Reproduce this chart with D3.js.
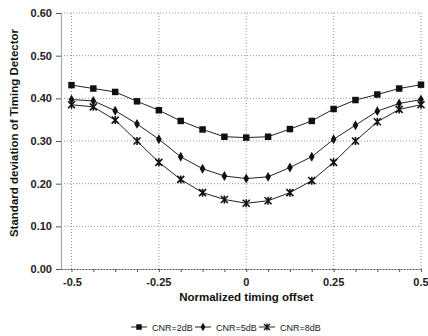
<!DOCTYPE html>
<html>
<head>
<meta charset="utf-8">
<script src="https://cdn.jsdelivr.net/npm/d3@7"></script>
<style>
  body { margin: 0; background: #fff; }
  svg { display: block; font-family: "Liberation Sans", Arial, sans-serif; }
</style>
</head>
<body>
<svg id="chart" width="428" height="336"></svg>
<script>
// Data
const offsets = [-0.5, -0.4375, -0.375, -0.3125, -0.25, -0.1875, -0.125, -0.0625, 0,
  0.0625, 0.125, 0.1875, 0.25, 0.3125, 0.375, 0.4375, 0.5];
const cnr2 = [0.431, 0.423, 0.415, 0.393, 0.372, 0.347, 0.327, 0.310, 0.308, 0.310, 0.328, 0.347, 0.375, 0.396, 0.409, 0.423, 0.432];
const cnr5 = [0.397, 0.394, 0.371, 0.340, 0.304, 0.263, 0.235, 0.218, 0.212, 0.216, 0.238, 0.263, 0.304, 0.337, 0.370, 0.388, 0.397];
const cnr8 = [0.385, 0.380, 0.349, 0.300, 0.250, 0.210, 0.179, 0.163, 0.154, 0.160, 0.179, 0.207, 0.250, 0.300, 0.345, 0.374, 0.385];
const seriesNames = ['CNR=2dB', 'CNR=5dB', 'CNR=8dB'];
const xTicks = [-0.5, -0.25, 0, 0.25, 0.5];
const xTickLabels = ['-0.5', '-0.25', '0', '0.25', '0.5'];
const yTicks = [0, 0.1, 0.2, 0.3, 0.4, 0.5, 0.6];

const svg = d3.select('#chart');
const margin = { top: 13, right: 7, bottom: 67, left: 61 };
const width = 428, height = 336;

const xScale = d3.scaleLinear()
  .domain([-0.53, 0.5])
  .range([margin.left, width - margin.right]);

const yScale = d3.scaleLinear()
  .domain([0, 0.6])
  .range([height - margin.bottom, margin.top]);

// Dotted grid
svg.append('g')
  .selectAll('line')
  .data(yTicks.filter(d => d > 0))
  .join('line')
  .attr('x1', xScale.range()[0])
  .attr('x2', xScale.range()[1])
  .attr('y1', d => yScale(d))
  .attr('y2', d => yScale(d))
  .attr('stroke', '#777')
  .attr('stroke-width', 0.8)
  .attr('stroke-dasharray', '1,2');

svg.append('g')
  .selectAll('line')
  .data(xTicks)
  .join('line')
  .attr('x1', d => xScale(d))
  .attr('x2', d => xScale(d))
  .attr('y1', yScale(0))
  .attr('y2', yScale(0.6))
  .attr('stroke', '#777')
  .attr('stroke-width', 0.8)
  .attr('stroke-dasharray', '1,2');

// Left axis
const yAxis = svg.append('g')
  .attr('transform', `translate(${margin.left}, 0)`)
  .call(d3.axisLeft(yScale).tickValues(yTicks).tickFormat(d3.format('.2f')).tickSize(5).tickSizeOuter(0));
yAxis.select('.domain').attr('stroke', '#aaa').attr('stroke-width', 1.2);
yAxis.selectAll('.tick line').attr('stroke', '#555');
yAxis.selectAll('.tick text')
  .attr('font-size', 11)
  .attr('font-weight', 'bold')
  .attr('fill', '#222')
  .attr('dx', '-1');

// Bottom axis
const xAxis = svg.append('g')
  .attr('transform', `translate(0, ${yScale(0)})`)
  .call(d3.axisBottom(xScale).tickValues(offsets).tickFormat('').tickSize(3).tickSizeOuter(0));
xAxis.select('.domain').attr('stroke', '#555').attr('stroke-dasharray', '2,1');
xAxis.selectAll('.tick line').attr('stroke', '#555');

svg.append('g')
  .selectAll('text')
  .data(xTicks)
  .join('text')
  .attr('x', (d, i) => xScale(d) + (i === 0 ? 1 : 0))
  .attr('y', yScale(0) + 17)
  .attr('text-anchor', 'middle')
  .attr('font-size', 11)
  .attr('font-weight', 'bold')
  .attr('fill', '#222')
  .text((d, i) => xTickLabels[i]);

// Axis titles
svg.append('text')
  .attr('x', xScale(0))
  .attr('y', 301)
  .attr('text-anchor', 'middle')
  .attr('font-size', 11.5)
  .attr('font-weight', 'bold')
  .attr('fill', '#111')
  .text('Normalized timing offset');

svg.append('text')
  .attr('transform', 'translate(18, 133) rotate(-90)')
  .attr('text-anchor', 'middle')
  .attr('font-size', 11.5)
  .attr('font-weight', 'bold')
  .attr('fill', '#111')
  .text('Standard deviation of Timing Detector');

// Markers
const squareSym = d3.symbol().type(d3.symbolSquare).size(42);
const diamondSym = d3.symbol().type(d3.symbolDiamond).size(28);
const starSym = d3.symbol().type(d3.symbolCross).size(30);

function drawMarker(g, kind) {
  if (kind === 0) {
    g.append('path').attr('d', squareSym()).attr('fill', '#111');
  } else if (kind === 1) {
    g.append('path').attr('d', diamondSym()).attr('fill', '#111');
  } else {
    g.append('path').attr('d', 'M-3.5,-3.5L3.5,3.5M-3.5,3.5L3.5,-3.5M0,-4L0,4')
      .attr('stroke', '#111').attr('stroke-width', 1.6);
  }
}

const line = d3.line()
  .x(d => xScale(d[0]))
  .y(d => yScale(d[1]));

[cnr2, cnr5, cnr8].forEach((values, k) => {
  const pts = offsets.map((x, i) => [x, values[i]]);
  svg.append('path')
    .datum(pts)
    .attr('fill', 'none')
    .attr('stroke', '#222')
    .attr('stroke-width', 1)
    .attr('d', line);
  pts.forEach(p => {
    const g = svg.append('g').attr('transform', `translate(${xScale(p[0])}, ${yScale(p[1])})`);
    drawMarker(g, k);
  });
});

// Legend
const legendX = [131, 195, 259];
seriesNames.forEach((name, k) => {
  const g = svg.append('g').attr('transform', `translate(${legendX[k]}, 327)`);
  g.append('line').attr('x1', 0).attr('x2', 16).attr('y1', 0).attr('y2', 0)
    .attr('stroke', '#222').attr('stroke-width', 1);
  const m = g.append('g').attr('transform', 'translate(8, 0) scale(0.85)');
  drawMarker(m, k);
  g.append('text')
    .attr('x', 21)
    .attr('y', 3.5)
    .attr('font-size', 9)
    .attr('fill', '#222')
    .text(name);
});
</script>
</body>
</html>
